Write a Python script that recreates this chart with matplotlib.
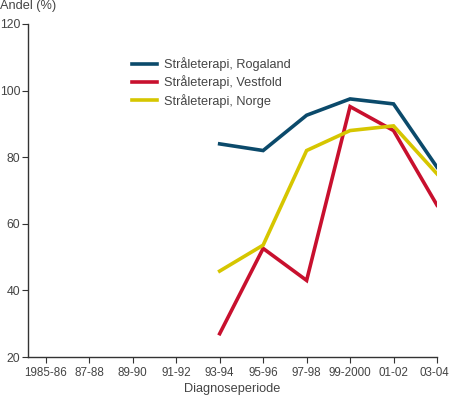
import numpy as np
import matplotlib
matplotlib.use('Agg')
import matplotlib.pyplot as plt
from matplotlib.transforms import ScaledTranslation

plt.rcParams['font.family'] = ['Liberation Sans', 'DejaVu Sans']

perioder = ['1985-86', '87-88', '89-90', '91-92', '93-94', '95-96',
            '97-98', '99-2000', '01-02', '03-04']
rogaland = [None, None, None, None, 84, 82, 92.6, 97.5, 96, 77]
vestfold = [None, None, None, None, 27, 52.6, 43, 95.2, 88, 65.6]
norge = [None, None, None, None, 45.8, 53.6, 82, 88, 89.4, 75]

serier = [('Stråleterapi, Rogaland', rogaland, '#0b4a6b'),
          ('Stråleterapi, Vestfold', vestfold, '#c8102e'),
          ('Stråleterapi, Norge', norge, '#d6c600')]

fig = plt.figure(figsize=(4.5, 3.97), dpi=100)
ax = fig.add_axes([28/450, 40/397, (437-28)/450, (357-24)/397])

x = np.arange(len(perioder))
for navn, verdier, farge in serier:
    v = np.array([np.nan if a is None else a for a in verdier], dtype=float)
    ax.plot(x, v, color=farge, lw=2.6, label=navn, solid_joinstyle='miter')

ax.set_xlim(-0.41, 9)
ax.set_ylim(20, 120)
ax.set_yticks([20, 40, 60, 80, 100, 120])
ax.set_xticks(x)
ax.set_xticklabels(perioder)
ax.spines['top'].set_visible(False)
ax.spines['right'].set_visible(False)
for s in ['left', 'bottom']:
    ax.spines[s].set_color('#333333')
    ax.spines[s].set_linewidth(1.0)
ax.tick_params(axis='both', colors='#333333', labelcolor='#444444', labelsize=8.8,
               length=4, width=0.8)
ax.tick_params(axis='x', pad=3, labelsize=8.4)
ax.tick_params(axis='y', pad=1.5)

# siste etikett litt inn så den ikke kuttes
siste = ax.get_xticklabels()[-1]
siste.set_transform(siste.get_transform() + ScaledTranslation(-3/100, 0, fig.dpi_scale_trans))

fig.text(0.0, 1 - 6/397, 'Andel (%)', fontsize=9.2, color='#444444', va='center', ha='left')
ax.set_xlabel('Diagnoseperiode', fontsize=9.2, color='#444444', labelpad=3)

ax.legend(loc='upper left', bbox_to_anchor=(0.225, 0.935), frameon=False, fontsize=9.2,
          handlelength=2.0, labelspacing=0.35, handletextpad=0.55, labelcolor='#444444')

fig.savefig('out.png', dpi=100)
